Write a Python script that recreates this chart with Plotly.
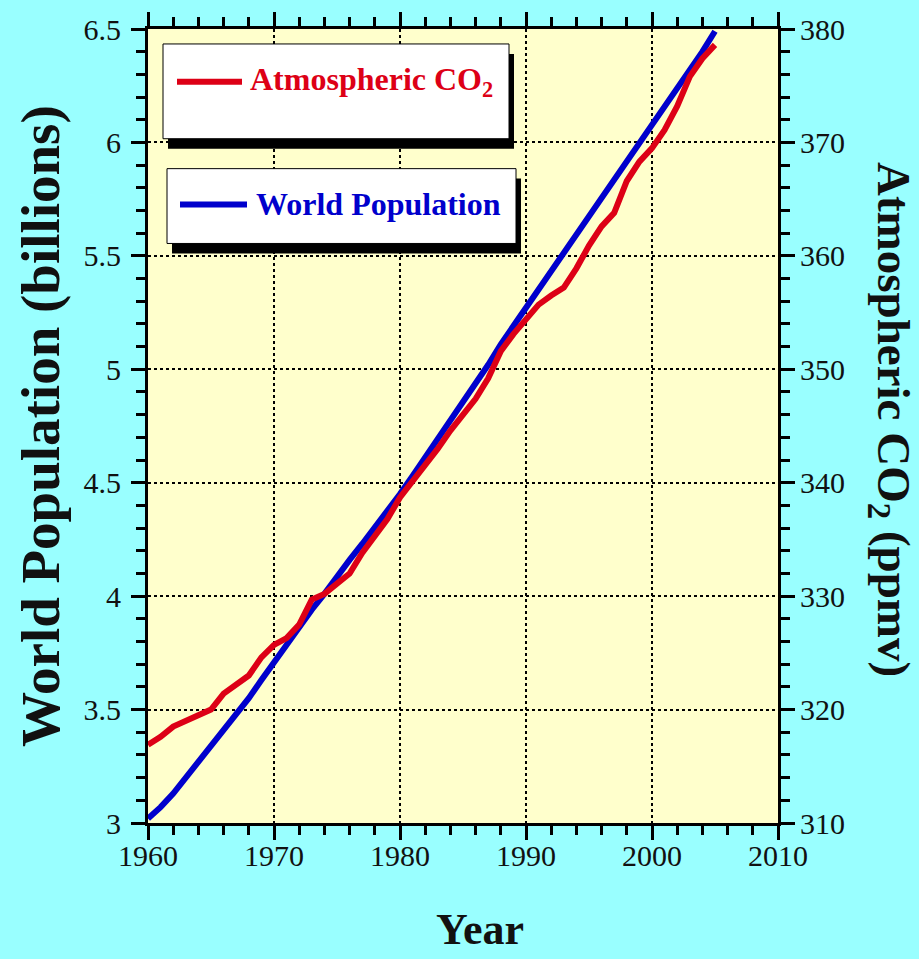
import plotly.graph_objects as go

# ---- data ----
years = list(range(1960, 2006))
population_billions = [3.02, 3.07, 3.13, 3.20, 3.26, 3.33, 3.41, 3.48, 3.55, 3.63,
                       3.71, 3.79, 3.86, 3.94, 4.01, 4.09, 4.16, 4.23, 4.30, 4.38,
                       4.45, 4.53, 4.61, 4.69, 4.77, 4.85, 4.94, 5.02, 5.11, 5.19,
                       5.28, 5.36, 5.44, 5.52, 5.60, 5.68, 5.76, 5.84, 5.92, 6.00,
                       6.08, 6.16, 6.24, 6.32, 6.40, 6.49]
co2_ppmv = [316.9, 317.6, 318.5, 319.0, 319.6, 320.0, 321.4, 322.2, 323.0, 324.6,
            325.7, 326.3, 327.5, 329.7, 330.2, 331.1, 332.0, 333.8, 335.4, 336.8,
            338.7, 340.1, 341.4, 343.0, 344.6, 346.0, 347.4, 349.2, 351.6, 353.1,
            354.4, 355.7, 356.5, 357.2, 358.9, 360.9, 362.6, 363.8, 366.6, 368.3,
            369.5, 371.1, 373.2, 375.8, 377.4, 378.6]
series_names = ["Atmospheric CO<sub>2</sub>", "World Population"]
x_title = "Year"
y_title = "World Population (billions)"
y2_title = "Atmospheric CO<sub>2</sub> (ppmv)"

RED = "#DD0016"
BLUE = "#0000CC"
FONT = "Liberation Serif"
PAPER = "#99FFFF"

# plot area in pixels
L, R, T, B = 148, 778, 27, 823
W, H = 919, 959

def px(x):
    return (x - L) / (R - L)

def py(y):
    return (B - y) / (B - T)

fig = go.Figure()
fig.add_trace(go.Scatter(x=years, y=population_billions, mode="lines",
                         line=dict(color=BLUE, width=6), name=series_names[1],
                         yaxis="y"))
fig.add_trace(go.Scatter(x=years, y=co2_ppmv, mode="lines",
                         line=dict(color=RED, width=6), name=series_names[0],
                         yaxis="y2"))
# invisible trace to activate the top axis (mirror with minor ticks)
fig.add_trace(go.Scatter(x=[years[0]], y=[population_billions[0]], mode="markers",
                         marker=dict(opacity=0), xaxis="x2", yaxis="y",
                         hoverinfo="skip", showlegend=False))

axis_common = dict(showline=True, linewidth=3, linecolor="black",
                   ticks="outside", ticklen=14, tickwidth=3, tickcolor="black",
                   tickfont=dict(family=FONT, size=30, color="#111111"),
                   zeroline=False)

fig.update_layout(
    width=W, height=H,
    margin=dict(l=L, r=W - R, t=T, b=H - B),
    paper_bgcolor=PAPER,
    plot_bgcolor="#FFFFCC",
    showlegend=False,
    xaxis=dict(range=[1960, 2010], tick0=1960, dtick=10,
               showgrid=True, gridcolor="black", griddash="dot", gridwidth=2,
               ticklabelstandoff=-10,
               minor=dict(dtick=2, ticklen=9, tickwidth=3, tickcolor="black",
                          ticks="outside", showgrid=False),
               **axis_common),
    xaxis2=dict(range=[1960, 2010], tick0=1960, dtick=10, overlaying="x",
                side="top", showticklabels=False, showgrid=False,
                minor=dict(dtick=2, ticklen=9, tickwidth=3, tickcolor="black",
                           ticks="outside", showgrid=False),
                **axis_common),
    yaxis=dict(range=[3, 6.5], tick0=3, dtick=0.5,
               showgrid=True, gridcolor="black", griddash="dot", gridwidth=2,
               ticklabelstandoff=4,
               minor=dict(dtick=0.1, ticklen=9, tickwidth=3, tickcolor="black",
                          ticks="outside", showgrid=False),
               **axis_common),
    yaxis2=dict(range=[310, 380], tick0=310, dtick=10, overlaying="y", side="right",
                showgrid=False, ticklabelstandoff=-1,
                minor=dict(dtick=2, ticklen=9, tickwidth=3, tickcolor="black",
                           ticks="outside", showgrid=False),
                **axis_common),
)

# axis titles
fig.add_annotation(text=f"<b>{x_title}</b>", xref="paper", yref="paper",
                   x=px(480), y=py(930), showarrow=False,
                   xanchor="center", yanchor="middle",
                   font=dict(family=FONT, size=44, color="#111111"))
fig.add_annotation(text=f"<b>{y_title}</b>", xref="paper", yref="paper",
                   x=px(40), y=py(425), showarrow=False, textangle=-90,
                   xanchor="center", yanchor="middle",
                   font=dict(family=FONT, size=55, color="#111111"))
fig.add_annotation(text=f"<b>{y2_title}</b>", xref="paper", yref="paper",
                   x=px(891), y=py(418), showarrow=False, textangle=90,
                   xanchor="center", yanchor="middle",
                   font=dict(family=FONT, size=47, color="#111111"))

# legend boxes (shadow + white box)
boxes = [(163, 42, 509, 137), (167, 167, 516, 242)]
for (x0, y0, x1, y1) in boxes:
    fig.add_shape(type="rect", xref="paper", yref="paper",
                  x0=px(x0 + 5), x1=px(x1 + 5), y0=py(y0 + 10), y1=py(y1 + 10),
                  fillcolor="black", line=dict(width=0), layer="above")
    fig.add_shape(type="rect", xref="paper", yref="paper",
                  x0=px(x0), x1=px(x1), y0=py(y0), y1=py(y1),
                  fillcolor="white", line=dict(color="black", width=1), layer="above")

legend_items = [(series_names[0], RED, 177, 242, 80, 248, 80),
                (series_names[1], BLUE, 180, 247, 203, 254, 202)]
for name, col, lx0, lx1, ly, tx, ty in legend_items:
    fig.add_shape(type="line", xref="paper", yref="paper",
                  x0=px(lx0), x1=px(lx1), y0=py(ly), y1=py(ly),
                  line=dict(color=col, width=6), layer="above")
    fig.add_annotation(text=f"<b>{name}</b>", xref="paper", yref="paper",
                       x=px(tx), y=py(ty), xanchor="left", yanchor="middle",
                       showarrow=False,
                       font=dict(family=FONT, size=32, color=col))

fig.write_html("out.html",
               config={"displayModeBar": False},
               post_script="document.body.style.margin='0';"
                           "document.body.style.background='" + PAPER + "';")
